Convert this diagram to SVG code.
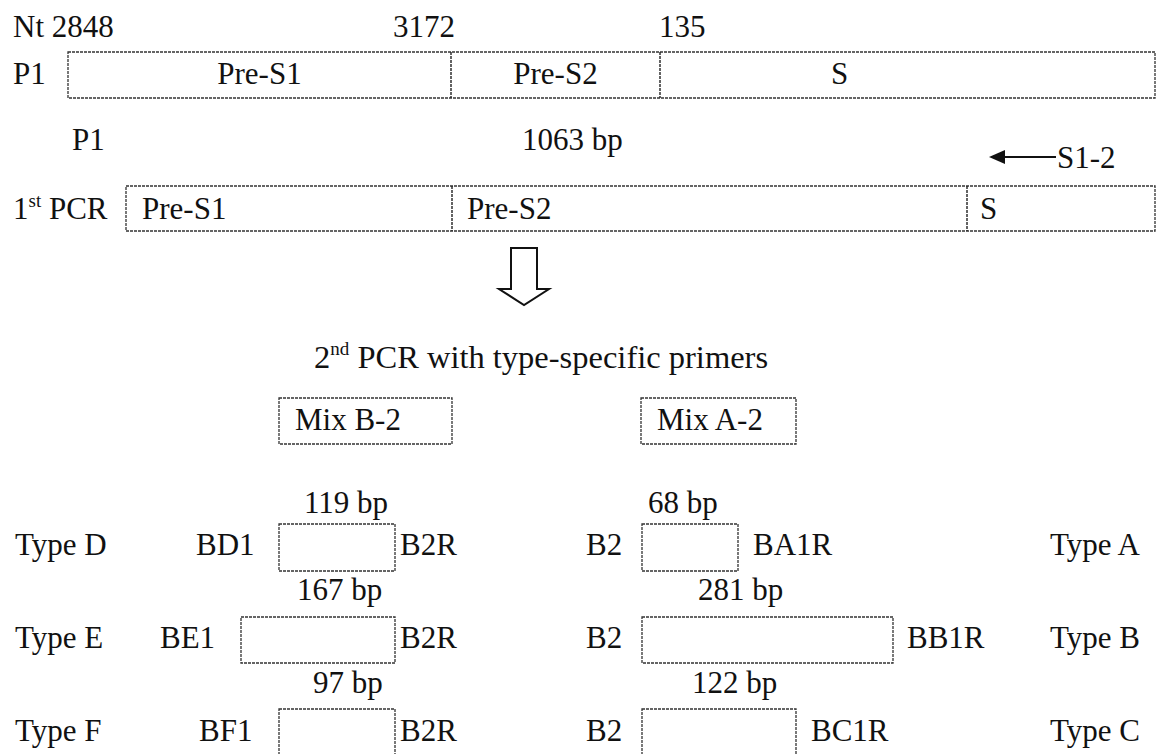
<svg xmlns="http://www.w3.org/2000/svg" width="1158" height="754" viewBox="0 0 1158 754">
<style>
text{font-family:"Liberation Serif","Times New Roman",serif;font-size:31px;fill:#111}
.sup{font-size:19px}
.title{font-size:32.5px}
.box{fill:none;stroke:#333;stroke-width:1.3;stroke-dasharray:3 1}
.div{stroke:#222;stroke-width:1.4;stroke-dasharray:3 1}
</style>
<rect width="1158" height="754" fill="#fff"/>
<g id="genome">
<text x="13" y="37">Nt 2848</text>
<text x="393" y="37">3172</text>
<text x="659" y="37">135</text>
<text x="13" y="84">P1</text>
<rect class="box" x="68" y="52" width="1087" height="46"/>
<line class="div" x1="451" y1="52" x2="451" y2="98"/>
<line class="div" x1="660" y1="52" x2="660" y2="98"/>
<text x="259.5" y="84" text-anchor="middle">Pre-S1</text>
<text x="555.5" y="84" text-anchor="middle">Pre-S2</text>
<text x="831" y="84">S</text>
</g>
<g id="pcr1">
<text x="72" y="150">P1</text>
<text x="522" y="150">1063 bp</text>
<text x="1057" y="168">S1-2</text>
<text x="13" y="219">1<tspan class="sup" dy="-12">st</tspan><tspan dy="12"> PCR</tspan></text>
<rect class="box" x="126" y="186" width="1029" height="45"/>
<line class="div" x1="452" y1="186" x2="452" y2="231"/>
<line class="div" x1="967" y1="186" x2="967" y2="231"/>
<text x="142" y="219">Pre-S1</text>
<text x="467" y="219">Pre-S2</text>
<text x="980" y="219">S</text>
</g>
<g id="connectors">
<line x1="1004" y1="157" x2="1056" y2="157" stroke="#111" stroke-width="2"/>
<polygon points="989,157 1005,150 1005,164" fill="#111"/>
<polygon points="511,248 537,248 537,289 549,289 524,305 499,289 511,289" fill="#fff" stroke="#111" stroke-width="2"/>
</g>
<g id="pcr2-title">
<text class="title" x="314" y="368">2<tspan class="sup" dy="-13">nd</tspan><tspan dy="13"> PCR with type-specific primers</tspan></text>
</g>
<g id="mixB">
<rect class="box" x="279" y="398" width="173" height="46"/>
<text x="295" y="430">Mix B-2</text>
</g>
<g id="mixA">
<rect class="box" x="641" y="398" width="155" height="46"/>
<text x="657" y="430">Mix A-2</text>
</g>
<g id="typeD">
<text x="15" y="555">Type D</text>
<text x="196" y="555">BD1</text>
<text x="304" y="513">119 bp</text>
<rect class="box" x="279" y="524" width="116" height="47"/>
<text x="400" y="555">B2R</text>
</g>
<g id="typeE">
<text x="15" y="648">Type E</text>
<text x="160" y="648">BE1</text>
<text x="297" y="600">167 bp</text>
<rect class="box" x="241" y="617" width="154" height="46"/>
<text x="400" y="648">B2R</text>
</g>
<g id="typeF">
<text x="15" y="741">Type F</text>
<text x="199" y="741">BF1</text>
<text x="313" y="693">97 bp</text>
<rect class="box" x="279" y="709" width="116" height="47"/>
<text x="400" y="741">B2R</text>
</g>
<g id="typeA">
<text x="586" y="555">B2</text>
<text x="648" y="513">68 bp</text>
<rect class="box" x="642" y="524" width="96" height="47"/>
<text x="753" y="555">BA1R</text>
<text x="1050" y="555">Type A</text>
</g>
<g id="typeB">
<text x="586" y="648">B2</text>
<text x="698" y="600">281 bp</text>
<rect class="box" x="642" y="617" width="251" height="46"/>
<text x="907" y="648">BB1R</text>
<text x="1050" y="648">Type B</text>
</g>
<g id="typeC">
<text x="586" y="741">B2</text>
<text x="692" y="693">122 bp</text>
<rect class="box" x="642" y="709" width="154" height="47"/>
<text x="811" y="741">BC1R</text>
<text x="1050" y="741">Type C</text>
</g>
</svg>
